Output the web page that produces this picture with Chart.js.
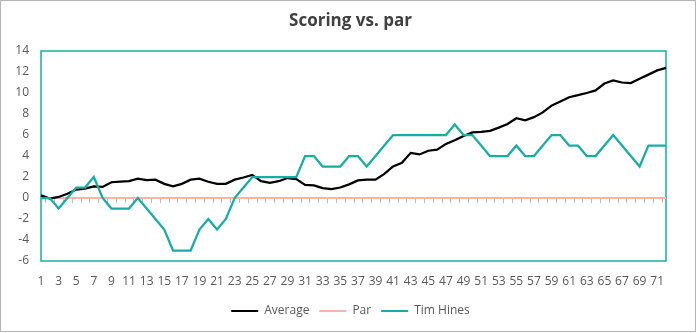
<!DOCTYPE html>
<html>
<head>
<meta charset="utf-8">
<script src="https://cdn.jsdelivr.net/npm/chart.js@4/dist/chart.umd.min.js"></script>
<style>
  html, body { margin: 0; padding: 0; background: #ffffff; }
  #wrap { width: 699px; height: 333px; }
</style>
</head>
<body>
<div id="wrap"><canvas id="chart" width="699" height="333"></canvas></div>
<script>
// Round numbers 1..72
const rounds = [
  1, 2, 3, 4, 5, 6, 7, 8, 9, 10, 11, 12, 13, 14, 15, 16, 17, 18,
  19, 20, 21, 22, 23, 24, 25, 26, 27, 28, 29, 30, 31, 32, 33, 34, 35, 36,
  37, 38, 39, 40, 41, 42, 43, 44, 45, 46, 47, 48, 49, 50, 51, 52, 53, 54,
  55, 56, 57, 58, 59, 60, 61, 62, 63, 64, 65, 66, 67, 68, 69, 70, 71, 72
];

// Cumulative scoring relative to par
const averageScores = [
  0.25, -0.05, 0.1, 0.4, 0.8, 0.9, 1.1, 1.05, 1.5, 1.55, 1.6, 1.85,
  1.7, 1.75, 1.35, 1.1, 1.35, 1.75, 1.85, 1.55, 1.35, 1.35, 1.75, 1.95,
  2.2, 1.6, 1.45, 1.6, 1.9, 1.8, 1.25, 1.2, 0.95, 0.85, 1.0, 1.3,
  1.68, 1.75, 1.75, 2.3, 3.0, 3.35, 4.3, 4.15, 4.5, 4.6, 5.15, 5.5,
  5.9, 6.25, 6.3, 6.4, 6.7, 7.05, 7.6, 7.4, 7.7, 8.15, 8.8, 9.2,
  9.6, 9.8, 10.0, 10.25, 10.9, 11.2, 11.0, 10.95, 11.35, 11.75, 12.15, 12.4
];

const parScores = [
  0, 0, 0, 0, 0, 0, 0, 0, 0, 0, 0, 0, 0, 0, 0, 0, 0, 0,
  0, 0, 0, 0, 0, 0, 0, 0, 0, 0, 0, 0, 0, 0, 0, 0, 0, 0,
  0, 0, 0, 0, 0, 0, 0, 0, 0, 0, 0, 0, 0, 0, 0, 0, 0, 0,
  0, 0, 0, 0, 0, 0, 0, 0, 0, 0, 0, 0, 0, 0, 0, 0, 0, 0
];

const timHinesScores = [
  0, 0, -1, 0, 1, 1, 2, 0, -1, -1, -1, 0, -1, -2, -3, -5, -5, -5,
  -3, -2, -3, -2, 0, 1, 2, 2, 2, 2, 2, 2, 4, 4, 3, 3, 3, 4,
  4, 3, 4, 5, 6, 6, 6, 6, 6, 6, 6, 7, 6, 6, 5, 4, 4, 4,
  5, 4, 4, 5, 6, 6, 5, 5, 4, 4, 5, 6, 5, 4, 3, 5, 5, 5
];

const yMin = -6;
const yMax = 14;
const yStep = 2;

const TEAL = '#17ada5';
const TEXT = '#595959';
const FONT = "'Open Sans', 'Noto Sans', sans-serif";

// Plot frame, axis tick marks on the zero line, and the outer chart border
const decorations = {
  id: 'decorations',
  beforeDatasetsDraw(chart) {
    const { ctx, chartArea: a, scales } = chart;
    const x = scales.x, y = scales.y;
    const y0 = y.getPixelForValue(0);
    ctx.save();
    ctx.strokeStyle = '#bfbfbf';
    ctx.lineWidth = 1;
    ctx.beginPath();
    for (let i = 1; i < rounds.length; i++) {
      const px = Math.round((x.getPixelForValue(i - 1) + x.getPixelForValue(i)) / 2) + 0.5;
      ctx.moveTo(px, y0);
      ctx.lineTo(px, y0 + 5);
    }
    ctx.stroke();
    ctx.strokeStyle = TEAL;
    ctx.lineWidth = 1.5;
    ctx.strokeRect(a.left, a.top, a.right - a.left, a.bottom - a.top);
    ctx.restore();
  },
  afterDraw(chart) {
    const { ctx } = chart;
    ctx.save();
    ctx.strokeStyle = '#b4b4b4';
    ctx.lineWidth = 1;
    ctx.strokeRect(0.5, 0.5, 695, 331);
    ctx.restore();
  }
};

new Chart(document.getElementById('chart'), {
  type: 'line',
  data: {
    labels: rounds,
    datasets: [
      { label: 'Average', data: averageScores, borderColor: '#000000', backgroundColor: '#000000', borderWidth: 2.25, order: 1 },
      { label: 'Par', data: parScores, borderColor: '#f7b5a5', backgroundColor: '#f7b5a5', borderWidth: 2, order: 2 },
      { label: 'Tim Hines', data: timHinesScores, borderColor: TEAL, backgroundColor: TEAL, borderWidth: 2.25, order: 0 }
    ]
  },
  options: {
    responsive: false,
    animation: false,
    devicePixelRatio: 1,
    elements: {
      point: { radius: 0, hoverRadius: 0 },
      line: { tension: 0, fill: false }
    },
    layout: { padding: { left: 3, right: 1, top: 0, bottom: 6 } },
    plugins: {
      tooltip: { enabled: false },
      title: {
        display: true,
        text: 'Scoring vs. par',
        color: '#404040',
        font: { family: FONT, size: 17, weight: 'bold' },
        padding: { top: 11, bottom: 19.6 }
      },
      legend: {
        position: 'bottom',
        labels: {
          color: TEXT,
          font: { family: FONT, size: 12 },
          boxWidth: 27,
          boxHeight: 2,
          padding: 10,
          sort: (a, b) => a.datasetIndex - b.datasetIndex,
          generateLabels(chart) {
            return Chart.defaults.plugins.legend.labels.generateLabels(chart)
              .map(item => Object.assign(item, { lineWidth: 0 }));
          }
        }
      }
    },
    scales: {
      x: {
        grid: { display: false, drawTicks: false },
        border: { display: false },
        ticks: {
          color: TEXT, font: { family: FONT, size: 12 }, autoSkip: false, maxRotation: 0, padding: 13,
          callback: function (value, index) { return index % 2 === 0 ? this.getLabelForValue(value) : ''; }
        },
        afterFit(scale) { scale.height = 34; }
      },
      y: {
        min: yMin, max: yMax,
        grid: { display: false, drawTicks: false },
        border: { display: false },
        ticks: { stepSize: yStep, color: TEXT, font: { family: FONT, size: 12 }, padding: 12 },
        afterFit(scale) { scale.width = 38; }
      },
      yRight: {
        position: 'right', min: yMin, max: yMax,
        grid: { display: false, drawTicks: false },
        border: { display: false },
        ticks: { display: false },
        afterFit(scale) { scale.width = 32; }
      }
    }
  },
  plugins: [decorations]
});
</script>
</body>
</html>
